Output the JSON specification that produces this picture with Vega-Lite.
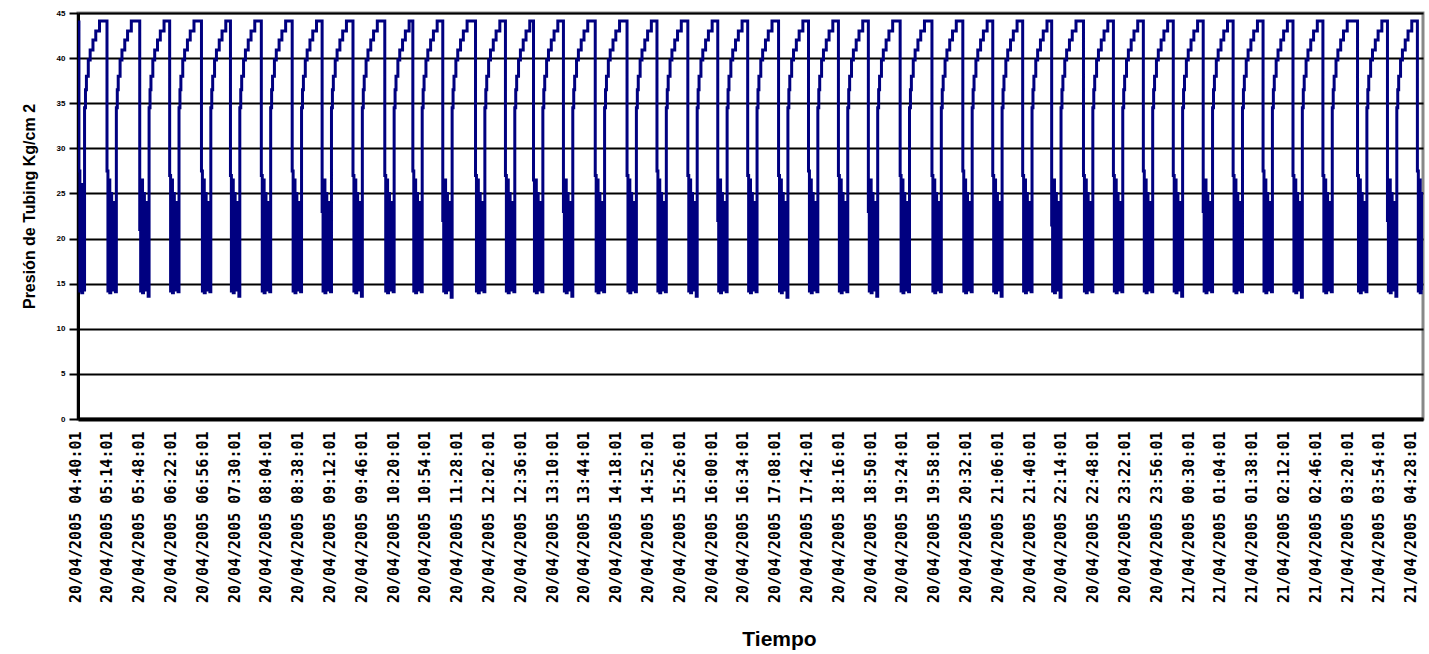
{
"$schema": "https://vega.github.io/schema/vega-lite/v6.json",
"width": 1345, "height": 406,
"autosize": {"type": "none"},
"padding": {"left": 78, "top": 13, "right": 6, "bottom": 235},
"background": "white",
"config": {"view": {"stroke": "#888888", "strokeWidth": 3}},
"data": {"values": [
{"t":"2005-04-20T04:40","p":44.0},{"t":"2005-04-20T04:41","p":27.5},{"t":"2005-04-20T04:42","p":14.2},{"t":"2005-04-20T04:43","p":26},{"t":"2005-04-20T04:44","p":14.0},{"t":"2005-04-20T04:45","p":22},{"t":"2005-04-20T04:46","p":14.3},{"t":"2005-04-20T04:47","p":34.5},{"t":"2005-04-20T04:48","p":36.5},{"t":"2005-04-20T04:49","p":38},{"t":"2005-04-20T04:51","p":39.8},{"t":"2005-04-20T04:53","p":40.9},{"t":"2005-04-20T04:56","p":42},{"t":"2005-04-20T04:59","p":43},{"t":"2005-04-20T05:03","p":44.1},
{"t":"2005-04-20T05:11","p":27.5},{"t":"2005-04-20T05:12","p":14.2},{"t":"2005-04-20T05:13","p":26.5},{"t":"2005-04-20T05:14","p":14.0},{"t":"2005-04-20T05:15","p":25},{"t":"2005-04-20T05:16","p":20.5},{"t":"2005-04-20T05:17","p":14.3},{"t":"2005-04-20T05:19","p":24},{"t":"2005-04-20T05:20","p":14.1},{"t":"2005-04-20T05:21","p":34.5},{"t":"2005-04-20T05:22","p":36.5},{"t":"2005-04-20T05:23","p":38},{"t":"2005-04-20T05:25","p":39.8},{"t":"2005-04-20T05:27","p":40.9},{"t":"2005-04-20T05:30","p":42},{"t":"2005-04-20T05:33","p":43},{"t":"2005-04-20T05:37","p":44.1},
{"t":"2005-04-20T05:46","p":21},{"t":"2005-04-20T05:47","p":14.2},{"t":"2005-04-20T05:48","p":26.5},{"t":"2005-04-20T05:49","p":14.0},{"t":"2005-04-20T05:50","p":25},{"t":"2005-04-20T05:51","p":20.5},{"t":"2005-04-20T05:52","p":14.3},{"t":"2005-04-20T05:54","p":24},{"t":"2005-04-20T05:55","p":13.6},{"t":"2005-04-20T05:56","p":34.5},{"t":"2005-04-20T05:57","p":36.5},{"t":"2005-04-20T05:58","p":38},{"t":"2005-04-20T06:00","p":39.8},{"t":"2005-04-20T06:02","p":40.9},{"t":"2005-04-20T06:05","p":42},{"t":"2005-04-20T06:08","p":43},{"t":"2005-04-20T06:12","p":44.1},
{"t":"2005-04-20T06:18","p":27},{"t":"2005-04-20T06:19","p":14.2},{"t":"2005-04-20T06:20","p":26.5},{"t":"2005-04-20T06:21","p":14.0},{"t":"2005-04-20T06:22","p":25},{"t":"2005-04-20T06:23","p":20.5},{"t":"2005-04-20T06:24","p":14.3},{"t":"2005-04-20T06:26","p":24},{"t":"2005-04-20T06:27","p":14.1},{"t":"2005-04-20T06:28","p":34.5},{"t":"2005-04-20T06:29","p":36.5},{"t":"2005-04-20T06:30","p":38},{"t":"2005-04-20T06:32","p":39.8},{"t":"2005-04-20T06:34","p":40.9},{"t":"2005-04-20T06:37","p":42},{"t":"2005-04-20T06:40","p":43},{"t":"2005-04-20T06:44","p":44.1},
{"t":"2005-04-20T06:52","p":27.5},{"t":"2005-04-20T06:53","p":14.2},{"t":"2005-04-20T06:54","p":26.5},{"t":"2005-04-20T06:55","p":14.0},{"t":"2005-04-20T06:56","p":25},{"t":"2005-04-20T06:57","p":20.5},{"t":"2005-04-20T06:58","p":14.3},{"t":"2005-04-20T07:00","p":24},{"t":"2005-04-20T07:01","p":14.1},{"t":"2005-04-20T07:02","p":34.5},{"t":"2005-04-20T07:03","p":36.5},{"t":"2005-04-20T07:04","p":38},{"t":"2005-04-20T07:06","p":39.8},{"t":"2005-04-20T07:08","p":40.9},{"t":"2005-04-20T07:11","p":42},{"t":"2005-04-20T07:14","p":43},{"t":"2005-04-20T07:18","p":44.1},
{"t":"2005-04-20T07:23","p":27},{"t":"2005-04-20T07:24","p":14.2},{"t":"2005-04-20T07:25","p":26.5},{"t":"2005-04-20T07:26","p":14.0},{"t":"2005-04-20T07:27","p":25},{"t":"2005-04-20T07:28","p":20.5},{"t":"2005-04-20T07:29","p":14.3},{"t":"2005-04-20T07:31","p":24},{"t":"2005-04-20T07:32","p":13.6},{"t":"2005-04-20T07:33","p":34.5},{"t":"2005-04-20T07:34","p":36.5},{"t":"2005-04-20T07:35","p":38},{"t":"2005-04-20T07:37","p":39.8},{"t":"2005-04-20T07:39","p":40.9},{"t":"2005-04-20T07:42","p":42},{"t":"2005-04-20T07:45","p":43},{"t":"2005-04-20T07:49","p":44.1},
{"t":"2005-04-20T07:56","p":27},{"t":"2005-04-20T07:57","p":14.2},{"t":"2005-04-20T07:58","p":26.5},{"t":"2005-04-20T07:59","p":14.0},{"t":"2005-04-20T08:00","p":25},{"t":"2005-04-20T08:01","p":20.5},{"t":"2005-04-20T08:02","p":14.3},{"t":"2005-04-20T08:04","p":24},{"t":"2005-04-20T08:05","p":14.1},{"t":"2005-04-20T08:06","p":34.5},{"t":"2005-04-20T08:07","p":36.5},{"t":"2005-04-20T08:08","p":38},{"t":"2005-04-20T08:10","p":39.8},{"t":"2005-04-20T08:12","p":40.9},{"t":"2005-04-20T08:15","p":42},{"t":"2005-04-20T08:18","p":43},{"t":"2005-04-20T08:22","p":44.1},
{"t":"2005-04-20T08:29","p":27.5},{"t":"2005-04-20T08:30","p":14.2},{"t":"2005-04-20T08:31","p":26.5},{"t":"2005-04-20T08:32","p":14.0},{"t":"2005-04-20T08:33","p":25},{"t":"2005-04-20T08:34","p":20.5},{"t":"2005-04-20T08:35","p":14.3},{"t":"2005-04-20T08:37","p":24},{"t":"2005-04-20T08:38","p":14.1},{"t":"2005-04-20T08:39","p":34.5},{"t":"2005-04-20T08:40","p":36.5},{"t":"2005-04-20T08:41","p":38},{"t":"2005-04-20T08:43","p":39.8},{"t":"2005-04-20T08:45","p":40.9},{"t":"2005-04-20T08:48","p":42},{"t":"2005-04-20T08:51","p":43},{"t":"2005-04-20T08:55","p":44.1},
{"t":"2005-04-20T09:01","p":23},{"t":"2005-04-20T09:02","p":14.2},{"t":"2005-04-20T09:03","p":26.5},{"t":"2005-04-20T09:04","p":14.0},{"t":"2005-04-20T09:05","p":25},{"t":"2005-04-20T09:06","p":20.5},{"t":"2005-04-20T09:07","p":14.3},{"t":"2005-04-20T09:09","p":24},{"t":"2005-04-20T09:10","p":14.1},{"t":"2005-04-20T09:11","p":34.5},{"t":"2005-04-20T09:12","p":36.5},{"t":"2005-04-20T09:13","p":38},{"t":"2005-04-20T09:15","p":39.8},{"t":"2005-04-20T09:17","p":40.9},{"t":"2005-04-20T09:20","p":42},{"t":"2005-04-20T09:23","p":43},{"t":"2005-04-20T09:27","p":44.1},
{"t":"2005-04-20T09:34","p":27},{"t":"2005-04-20T09:35","p":14.2},{"t":"2005-04-20T09:36","p":26.5},{"t":"2005-04-20T09:37","p":14.0},{"t":"2005-04-20T09:38","p":25},{"t":"2005-04-20T09:39","p":20.5},{"t":"2005-04-20T09:40","p":14.3},{"t":"2005-04-20T09:42","p":24},{"t":"2005-04-20T09:43","p":13.6},{"t":"2005-04-20T09:44","p":34.5},{"t":"2005-04-20T09:45","p":36.5},{"t":"2005-04-20T09:46","p":38},{"t":"2005-04-20T09:48","p":39.8},{"t":"2005-04-20T09:50","p":40.9},{"t":"2005-04-20T09:53","p":42},{"t":"2005-04-20T09:56","p":43},{"t":"2005-04-20T10:00","p":44.1},
{"t":"2005-04-20T10:08","p":27},{"t":"2005-04-20T10:09","p":14.2},{"t":"2005-04-20T10:10","p":26.5},{"t":"2005-04-20T10:11","p":14.0},{"t":"2005-04-20T10:12","p":25},{"t":"2005-04-20T10:13","p":20.5},{"t":"2005-04-20T10:14","p":14.3},{"t":"2005-04-20T10:16","p":24},{"t":"2005-04-20T10:17","p":14.1},{"t":"2005-04-20T10:18","p":34.5},{"t":"2005-04-20T10:19","p":36.5},{"t":"2005-04-20T10:20","p":38},{"t":"2005-04-20T10:22","p":39.8},{"t":"2005-04-20T10:24","p":40.9},{"t":"2005-04-20T10:27","p":42},{"t":"2005-04-20T10:30","p":43},{"t":"2005-04-20T10:34","p":44.1},
{"t":"2005-04-20T10:38","p":27.5},{"t":"2005-04-20T10:39","p":14.2},{"t":"2005-04-20T10:40","p":26.5},{"t":"2005-04-20T10:41","p":14.0},{"t":"2005-04-20T10:42","p":25},{"t":"2005-04-20T10:43","p":20.5},{"t":"2005-04-20T10:44","p":14.3},{"t":"2005-04-20T10:46","p":24},{"t":"2005-04-20T10:47","p":14.1},{"t":"2005-04-20T10:48","p":34.5},{"t":"2005-04-20T10:49","p":36.5},{"t":"2005-04-20T10:50","p":38},{"t":"2005-04-20T10:52","p":39.8},{"t":"2005-04-20T10:54","p":40.9},{"t":"2005-04-20T10:57","p":42},{"t":"2005-04-20T11:00","p":43},{"t":"2005-04-20T11:04","p":44.1},
{"t":"2005-04-20T11:10","p":22},{"t":"2005-04-20T11:11","p":14.2},{"t":"2005-04-20T11:12","p":26.5},{"t":"2005-04-20T11:13","p":14.0},{"t":"2005-04-20T11:14","p":25},{"t":"2005-04-20T11:15","p":20.5},{"t":"2005-04-20T11:16","p":14.3},{"t":"2005-04-20T11:18","p":24},{"t":"2005-04-20T11:19","p":13.5},{"t":"2005-04-20T11:20","p":34.5},{"t":"2005-04-20T11:21","p":36.5},{"t":"2005-04-20T11:22","p":38},{"t":"2005-04-20T11:24","p":39.8},{"t":"2005-04-20T11:26","p":40.9},{"t":"2005-04-20T11:29","p":42},{"t":"2005-04-20T11:32","p":43},{"t":"2005-04-20T11:36","p":44.1},
{"t":"2005-04-20T11:45","p":27},{"t":"2005-04-20T11:46","p":14.2},{"t":"2005-04-20T11:47","p":26.5},{"t":"2005-04-20T11:48","p":14.0},{"t":"2005-04-20T11:49","p":25},{"t":"2005-04-20T11:50","p":20.5},{"t":"2005-04-20T11:51","p":14.3},{"t":"2005-04-20T11:53","p":24},{"t":"2005-04-20T11:54","p":14.1},{"t":"2005-04-20T11:55","p":34.5},{"t":"2005-04-20T11:56","p":36.5},{"t":"2005-04-20T11:57","p":38},{"t":"2005-04-20T11:59","p":39.8},{"t":"2005-04-20T12:01","p":40.9},{"t":"2005-04-20T12:04","p":42},{"t":"2005-04-20T12:07","p":43},{"t":"2005-04-20T12:11","p":44.1},
{"t":"2005-04-20T12:17","p":27},{"t":"2005-04-20T12:18","p":14.2},{"t":"2005-04-20T12:19","p":26.5},{"t":"2005-04-20T12:20","p":14.0},{"t":"2005-04-20T12:21","p":25},{"t":"2005-04-20T12:22","p":20.5},{"t":"2005-04-20T12:23","p":14.3},{"t":"2005-04-20T12:25","p":24},{"t":"2005-04-20T12:26","p":14.1},{"t":"2005-04-20T12:27","p":34.5},{"t":"2005-04-20T12:28","p":36.5},{"t":"2005-04-20T12:29","p":38},{"t":"2005-04-20T12:31","p":39.8},{"t":"2005-04-20T12:33","p":40.9},{"t":"2005-04-20T12:36","p":42},{"t":"2005-04-20T12:39","p":43},{"t":"2005-04-20T12:43","p":44.1},
{"t":"2005-04-20T12:47","p":26.5},{"t":"2005-04-20T12:48","p":14.2},{"t":"2005-04-20T12:49","p":26.5},{"t":"2005-04-20T12:50","p":14.0},{"t":"2005-04-20T12:51","p":25},{"t":"2005-04-20T12:52","p":20.5},{"t":"2005-04-20T12:53","p":14.3},{"t":"2005-04-20T12:55","p":24},{"t":"2005-04-20T12:56","p":14.1},{"t":"2005-04-20T12:57","p":34.5},{"t":"2005-04-20T12:58","p":36.5},{"t":"2005-04-20T12:59","p":38},{"t":"2005-04-20T13:01","p":39.8},{"t":"2005-04-20T13:03","p":40.9},{"t":"2005-04-20T13:06","p":42},{"t":"2005-04-20T13:09","p":43},{"t":"2005-04-20T13:13","p":44.1},
{"t":"2005-04-20T13:19","p":23},{"t":"2005-04-20T13:20","p":14.2},{"t":"2005-04-20T13:21","p":26.5},{"t":"2005-04-20T13:22","p":14.0},{"t":"2005-04-20T13:23","p":25},{"t":"2005-04-20T13:24","p":20.5},{"t":"2005-04-20T13:25","p":14.3},{"t":"2005-04-20T13:27","p":24},{"t":"2005-04-20T13:28","p":13.6},{"t":"2005-04-20T13:29","p":34.5},{"t":"2005-04-20T13:30","p":36.5},{"t":"2005-04-20T13:31","p":38},{"t":"2005-04-20T13:33","p":39.8},{"t":"2005-04-20T13:35","p":40.9},{"t":"2005-04-20T13:38","p":42},{"t":"2005-04-20T13:41","p":43},{"t":"2005-04-20T13:45","p":44.1},
{"t":"2005-04-20T13:53","p":27},{"t":"2005-04-20T13:54","p":14.2},{"t":"2005-04-20T13:55","p":26.5},{"t":"2005-04-20T13:56","p":14.0},{"t":"2005-04-20T13:57","p":25},{"t":"2005-04-20T13:58","p":20.5},{"t":"2005-04-20T13:59","p":14.3},{"t":"2005-04-20T14:01","p":24},{"t":"2005-04-20T14:02","p":14.1},{"t":"2005-04-20T14:03","p":34.5},{"t":"2005-04-20T14:04","p":36.5},{"t":"2005-04-20T14:05","p":38},{"t":"2005-04-20T14:07","p":39.8},{"t":"2005-04-20T14:09","p":40.9},{"t":"2005-04-20T14:12","p":42},{"t":"2005-04-20T14:15","p":43},{"t":"2005-04-20T14:19","p":44.1},
{"t":"2005-04-20T14:27","p":27},{"t":"2005-04-20T14:28","p":14.2},{"t":"2005-04-20T14:29","p":26.5},{"t":"2005-04-20T14:30","p":14.0},{"t":"2005-04-20T14:31","p":25},{"t":"2005-04-20T14:32","p":20.5},{"t":"2005-04-20T14:33","p":14.3},{"t":"2005-04-20T14:35","p":24},{"t":"2005-04-20T14:36","p":14.1},{"t":"2005-04-20T14:37","p":34.5},{"t":"2005-04-20T14:38","p":36.5},{"t":"2005-04-20T14:39","p":38},{"t":"2005-04-20T14:41","p":39.8},{"t":"2005-04-20T14:43","p":40.9},{"t":"2005-04-20T14:46","p":42},{"t":"2005-04-20T14:49","p":43},{"t":"2005-04-20T14:53","p":44.1},
{"t":"2005-04-20T14:59","p":27.5},{"t":"2005-04-20T15:00","p":14.2},{"t":"2005-04-20T15:01","p":26.5},{"t":"2005-04-20T15:02","p":14.0},{"t":"2005-04-20T15:03","p":25},{"t":"2005-04-20T15:04","p":20.5},{"t":"2005-04-20T15:05","p":14.3},{"t":"2005-04-20T15:07","p":24},{"t":"2005-04-20T15:08","p":14.1},{"t":"2005-04-20T15:09","p":34.5},{"t":"2005-04-20T15:10","p":36.5},{"t":"2005-04-20T15:11","p":38},{"t":"2005-04-20T15:13","p":39.8},{"t":"2005-04-20T15:15","p":40.9},{"t":"2005-04-20T15:18","p":42},{"t":"2005-04-20T15:21","p":43},{"t":"2005-04-20T15:25","p":44.1},
{"t":"2005-04-20T15:32","p":27},{"t":"2005-04-20T15:33","p":14.2},{"t":"2005-04-20T15:34","p":26.5},{"t":"2005-04-20T15:35","p":14.0},{"t":"2005-04-20T15:36","p":25},{"t":"2005-04-20T15:37","p":20.5},{"t":"2005-04-20T15:38","p":14.3},{"t":"2005-04-20T15:40","p":24},{"t":"2005-04-20T15:41","p":13.6},{"t":"2005-04-20T15:42","p":34.5},{"t":"2005-04-20T15:43","p":36.5},{"t":"2005-04-20T15:44","p":38},{"t":"2005-04-20T15:46","p":39.8},{"t":"2005-04-20T15:48","p":40.9},{"t":"2005-04-20T15:51","p":42},{"t":"2005-04-20T15:54","p":43},{"t":"2005-04-20T15:58","p":44.1},
{"t":"2005-04-20T16:04","p":22},{"t":"2005-04-20T16:05","p":14.2},{"t":"2005-04-20T16:06","p":26.5},{"t":"2005-04-20T16:07","p":14.0},{"t":"2005-04-20T16:08","p":25},{"t":"2005-04-20T16:09","p":20.5},{"t":"2005-04-20T16:10","p":14.3},{"t":"2005-04-20T16:12","p":24},{"t":"2005-04-20T16:13","p":14.1},{"t":"2005-04-20T16:14","p":34.5},{"t":"2005-04-20T16:15","p":36.5},{"t":"2005-04-20T16:16","p":38},{"t":"2005-04-20T16:18","p":39.8},{"t":"2005-04-20T16:20","p":40.9},{"t":"2005-04-20T16:23","p":42},{"t":"2005-04-20T16:26","p":43},{"t":"2005-04-20T16:30","p":44.1},
{"t":"2005-04-20T16:36","p":27},{"t":"2005-04-20T16:37","p":14.2},{"t":"2005-04-20T16:38","p":26.5},{"t":"2005-04-20T16:39","p":14.0},{"t":"2005-04-20T16:40","p":25},{"t":"2005-04-20T16:41","p":20.5},{"t":"2005-04-20T16:42","p":14.3},{"t":"2005-04-20T16:44","p":24},{"t":"2005-04-20T16:45","p":14.1},{"t":"2005-04-20T16:46","p":34.5},{"t":"2005-04-20T16:47","p":36.5},{"t":"2005-04-20T16:48","p":38},{"t":"2005-04-20T16:50","p":39.8},{"t":"2005-04-20T16:52","p":40.9},{"t":"2005-04-20T16:55","p":42},{"t":"2005-04-20T16:58","p":43},{"t":"2005-04-20T17:02","p":44.1},
{"t":"2005-04-20T17:09","p":27},{"t":"2005-04-20T17:10","p":14.2},{"t":"2005-04-20T17:11","p":26.5},{"t":"2005-04-20T17:12","p":14.0},{"t":"2005-04-20T17:13","p":25},{"t":"2005-04-20T17:14","p":20.5},{"t":"2005-04-20T17:15","p":14.3},{"t":"2005-04-20T17:17","p":24},{"t":"2005-04-20T17:18","p":13.5},{"t":"2005-04-20T17:19","p":34.5},{"t":"2005-04-20T17:20","p":36.5},{"t":"2005-04-20T17:21","p":38},{"t":"2005-04-20T17:23","p":39.8},{"t":"2005-04-20T17:25","p":40.9},{"t":"2005-04-20T17:28","p":42},{"t":"2005-04-20T17:31","p":43},{"t":"2005-04-20T17:35","p":44.1},
{"t":"2005-04-20T17:41","p":27.5},{"t":"2005-04-20T17:42","p":14.2},{"t":"2005-04-20T17:43","p":26.5},{"t":"2005-04-20T17:44","p":14.0},{"t":"2005-04-20T17:45","p":25},{"t":"2005-04-20T17:46","p":20.5},{"t":"2005-04-20T17:47","p":14.3},{"t":"2005-04-20T17:49","p":24},{"t":"2005-04-20T17:50","p":14.1},{"t":"2005-04-20T17:51","p":34.5},{"t":"2005-04-20T17:52","p":36.5},{"t":"2005-04-20T17:53","p":38},{"t":"2005-04-20T17:55","p":39.8},{"t":"2005-04-20T17:57","p":40.9},{"t":"2005-04-20T18:00","p":42},{"t":"2005-04-20T18:03","p":43},{"t":"2005-04-20T18:07","p":44.1},
{"t":"2005-04-20T18:13","p":27},{"t":"2005-04-20T18:14","p":14.2},{"t":"2005-04-20T18:15","p":26.5},{"t":"2005-04-20T18:16","p":14.0},{"t":"2005-04-20T18:17","p":25},{"t":"2005-04-20T18:18","p":20.5},{"t":"2005-04-20T18:19","p":14.3},{"t":"2005-04-20T18:21","p":24},{"t":"2005-04-20T18:22","p":14.1},{"t":"2005-04-20T18:23","p":34.5},{"t":"2005-04-20T18:24","p":36.5},{"t":"2005-04-20T18:25","p":38},{"t":"2005-04-20T18:27","p":39.8},{"t":"2005-04-20T18:29","p":40.9},{"t":"2005-04-20T18:32","p":42},{"t":"2005-04-20T18:35","p":43},{"t":"2005-04-20T18:39","p":44.1},
{"t":"2005-04-20T18:45","p":23},{"t":"2005-04-20T18:46","p":14.2},{"t":"2005-04-20T18:47","p":26.5},{"t":"2005-04-20T18:48","p":14.0},{"t":"2005-04-20T18:49","p":25},{"t":"2005-04-20T18:50","p":20.5},{"t":"2005-04-20T18:51","p":14.3},{"t":"2005-04-20T18:53","p":24},{"t":"2005-04-20T18:54","p":13.6},{"t":"2005-04-20T18:55","p":34.5},{"t":"2005-04-20T18:56","p":36.5},{"t":"2005-04-20T18:57","p":38},{"t":"2005-04-20T18:59","p":39.8},{"t":"2005-04-20T19:01","p":40.9},{"t":"2005-04-20T19:04","p":42},{"t":"2005-04-20T19:07","p":43},{"t":"2005-04-20T19:11","p":44.1},
{"t":"2005-04-20T19:19","p":27},{"t":"2005-04-20T19:20","p":14.2},{"t":"2005-04-20T19:21","p":26.5},{"t":"2005-04-20T19:22","p":14.0},{"t":"2005-04-20T19:23","p":25},{"t":"2005-04-20T19:24","p":20.5},{"t":"2005-04-20T19:25","p":14.3},{"t":"2005-04-20T19:27","p":24},{"t":"2005-04-20T19:28","p":14.1},{"t":"2005-04-20T19:29","p":34.5},{"t":"2005-04-20T19:30","p":36.5},{"t":"2005-04-20T19:31","p":38},{"t":"2005-04-20T19:33","p":39.8},{"t":"2005-04-20T19:35","p":40.9},{"t":"2005-04-20T19:38","p":42},{"t":"2005-04-20T19:41","p":43},{"t":"2005-04-20T19:45","p":44.1},
{"t":"2005-04-20T19:53","p":27},{"t":"2005-04-20T19:54","p":14.2},{"t":"2005-04-20T19:55","p":26.5},{"t":"2005-04-20T19:56","p":14.0},{"t":"2005-04-20T19:57","p":25},{"t":"2005-04-20T19:58","p":20.5},{"t":"2005-04-20T19:59","p":14.3},{"t":"2005-04-20T20:01","p":24},{"t":"2005-04-20T20:02","p":14.1},{"t":"2005-04-20T20:03","p":34.5},{"t":"2005-04-20T20:04","p":36.5},{"t":"2005-04-20T20:05","p":38},{"t":"2005-04-20T20:07","p":39.8},{"t":"2005-04-20T20:09","p":40.9},{"t":"2005-04-20T20:12","p":42},{"t":"2005-04-20T20:15","p":43},{"t":"2005-04-20T20:19","p":44.1},
{"t":"2005-04-20T20:26","p":27.5},{"t":"2005-04-20T20:27","p":14.2},{"t":"2005-04-20T20:28","p":26.5},{"t":"2005-04-20T20:29","p":14.0},{"t":"2005-04-20T20:30","p":25},{"t":"2005-04-20T20:31","p":20.5},{"t":"2005-04-20T20:32","p":14.3},{"t":"2005-04-20T20:34","p":24},{"t":"2005-04-20T20:35","p":14.1},{"t":"2005-04-20T20:36","p":34.5},{"t":"2005-04-20T20:37","p":36.5},{"t":"2005-04-20T20:38","p":38},{"t":"2005-04-20T20:40","p":39.8},{"t":"2005-04-20T20:42","p":40.9},{"t":"2005-04-20T20:45","p":42},{"t":"2005-04-20T20:48","p":43},{"t":"2005-04-20T20:52","p":44.1},
{"t":"2005-04-20T20:58","p":27},{"t":"2005-04-20T20:59","p":14.2},{"t":"2005-04-20T21:00","p":26.5},{"t":"2005-04-20T21:01","p":14.0},{"t":"2005-04-20T21:02","p":25},{"t":"2005-04-20T21:03","p":20.5},{"t":"2005-04-20T21:04","p":14.3},{"t":"2005-04-20T21:06","p":24},{"t":"2005-04-20T21:07","p":13.6},{"t":"2005-04-20T21:08","p":34.5},{"t":"2005-04-20T21:09","p":36.5},{"t":"2005-04-20T21:10","p":38},{"t":"2005-04-20T21:12","p":39.8},{"t":"2005-04-20T21:14","p":40.9},{"t":"2005-04-20T21:17","p":42},{"t":"2005-04-20T21:20","p":43},{"t":"2005-04-20T21:24","p":44.1},
{"t":"2005-04-20T21:30","p":27},{"t":"2005-04-20T21:31","p":14.2},{"t":"2005-04-20T21:32","p":26.5},{"t":"2005-04-20T21:33","p":14.0},{"t":"2005-04-20T21:34","p":25},{"t":"2005-04-20T21:35","p":20.5},{"t":"2005-04-20T21:36","p":14.3},{"t":"2005-04-20T21:38","p":24},{"t":"2005-04-20T21:39","p":14.1},{"t":"2005-04-20T21:40","p":34.5},{"t":"2005-04-20T21:41","p":36.5},{"t":"2005-04-20T21:42","p":38},{"t":"2005-04-20T21:44","p":39.8},{"t":"2005-04-20T21:46","p":40.9},{"t":"2005-04-20T21:49","p":42},{"t":"2005-04-20T21:52","p":43},{"t":"2005-04-20T21:56","p":44.1},
{"t":"2005-04-20T22:01","p":21.5},{"t":"2005-04-20T22:02","p":14.2},{"t":"2005-04-20T22:03","p":26.5},{"t":"2005-04-20T22:04","p":14.0},{"t":"2005-04-20T22:05","p":25},{"t":"2005-04-20T22:06","p":20.5},{"t":"2005-04-20T22:07","p":14.3},{"t":"2005-04-20T22:09","p":24},{"t":"2005-04-20T22:10","p":13.5},{"t":"2005-04-20T22:11","p":34.5},{"t":"2005-04-20T22:12","p":36.5},{"t":"2005-04-20T22:13","p":38},{"t":"2005-04-20T22:15","p":39.8},{"t":"2005-04-20T22:17","p":40.9},{"t":"2005-04-20T22:20","p":42},{"t":"2005-04-20T22:23","p":43},{"t":"2005-04-20T22:27","p":44.1},
{"t":"2005-04-20T22:35","p":27},{"t":"2005-04-20T22:36","p":14.2},{"t":"2005-04-20T22:37","p":26.5},{"t":"2005-04-20T22:38","p":14.0},{"t":"2005-04-20T22:39","p":25},{"t":"2005-04-20T22:40","p":20.5},{"t":"2005-04-20T22:41","p":14.3},{"t":"2005-04-20T22:43","p":24},{"t":"2005-04-20T22:44","p":14.1},{"t":"2005-04-20T22:45","p":34.5},{"t":"2005-04-20T22:46","p":36.5},{"t":"2005-04-20T22:47","p":38},{"t":"2005-04-20T22:49","p":39.8},{"t":"2005-04-20T22:51","p":40.9},{"t":"2005-04-20T22:54","p":42},{"t":"2005-04-20T22:57","p":43},{"t":"2005-04-20T23:01","p":44.1},
{"t":"2005-04-20T23:07","p":27},{"t":"2005-04-20T23:08","p":14.2},{"t":"2005-04-20T23:09","p":26.5},{"t":"2005-04-20T23:10","p":14.0},{"t":"2005-04-20T23:11","p":25},{"t":"2005-04-20T23:12","p":20.5},{"t":"2005-04-20T23:13","p":14.3},{"t":"2005-04-20T23:15","p":24},{"t":"2005-04-20T23:16","p":14.1},{"t":"2005-04-20T23:17","p":34.5},{"t":"2005-04-20T23:18","p":36.5},{"t":"2005-04-20T23:19","p":38},{"t":"2005-04-20T23:21","p":39.8},{"t":"2005-04-20T23:23","p":40.9},{"t":"2005-04-20T23:26","p":42},{"t":"2005-04-20T23:29","p":43},{"t":"2005-04-20T23:33","p":44.1},
{"t":"2005-04-20T23:39","p":27.5},{"t":"2005-04-20T23:40","p":14.2},{"t":"2005-04-20T23:41","p":26.5},{"t":"2005-04-20T23:42","p":14.0},{"t":"2005-04-20T23:43","p":25},{"t":"2005-04-20T23:44","p":20.5},{"t":"2005-04-20T23:45","p":14.3},{"t":"2005-04-20T23:47","p":24},{"t":"2005-04-20T23:48","p":14.1},{"t":"2005-04-20T23:49","p":34.5},{"t":"2005-04-20T23:50","p":36.5},{"t":"2005-04-20T23:51","p":38},{"t":"2005-04-20T23:53","p":39.8},{"t":"2005-04-20T23:55","p":40.9},{"t":"2005-04-20T23:58","p":42},{"t":"2005-04-21T00:01","p":43},{"t":"2005-04-21T00:05","p":44.1},
{"t":"2005-04-21T00:11","p":27},{"t":"2005-04-21T00:12","p":14.2},{"t":"2005-04-21T00:13","p":26.5},{"t":"2005-04-21T00:14","p":14.0},{"t":"2005-04-21T00:15","p":25},{"t":"2005-04-21T00:16","p":20.5},{"t":"2005-04-21T00:17","p":14.3},{"t":"2005-04-21T00:19","p":24},{"t":"2005-04-21T00:20","p":13.6},{"t":"2005-04-21T00:21","p":34.5},{"t":"2005-04-21T00:22","p":36.5},{"t":"2005-04-21T00:23","p":38},{"t":"2005-04-21T00:25","p":39.8},{"t":"2005-04-21T00:27","p":40.9},{"t":"2005-04-21T00:30","p":42},{"t":"2005-04-21T00:33","p":43},{"t":"2005-04-21T00:37","p":44.1},
{"t":"2005-04-21T00:43","p":23},{"t":"2005-04-21T00:44","p":14.2},{"t":"2005-04-21T00:45","p":26.5},{"t":"2005-04-21T00:46","p":14.0},{"t":"2005-04-21T00:47","p":25},{"t":"2005-04-21T00:48","p":20.5},{"t":"2005-04-21T00:49","p":14.3},{"t":"2005-04-21T00:51","p":24},{"t":"2005-04-21T00:52","p":14.1},{"t":"2005-04-21T00:53","p":34.5},{"t":"2005-04-21T00:54","p":36.5},{"t":"2005-04-21T00:55","p":38},{"t":"2005-04-21T00:57","p":39.8},{"t":"2005-04-21T00:59","p":40.9},{"t":"2005-04-21T01:02","p":42},{"t":"2005-04-21T01:05","p":43},{"t":"2005-04-21T01:09","p":44.1},
{"t":"2005-04-21T01:15","p":27},{"t":"2005-04-21T01:16","p":14.2},{"t":"2005-04-21T01:17","p":26.5},{"t":"2005-04-21T01:18","p":14.0},{"t":"2005-04-21T01:19","p":25},{"t":"2005-04-21T01:20","p":20.5},{"t":"2005-04-21T01:21","p":14.3},{"t":"2005-04-21T01:23","p":24},{"t":"2005-04-21T01:24","p":14.1},{"t":"2005-04-21T01:25","p":34.5},{"t":"2005-04-21T01:26","p":36.5},{"t":"2005-04-21T01:27","p":38},{"t":"2005-04-21T01:29","p":39.8},{"t":"2005-04-21T01:31","p":40.9},{"t":"2005-04-21T01:34","p":42},{"t":"2005-04-21T01:37","p":43},{"t":"2005-04-21T01:41","p":44.1},
{"t":"2005-04-21T01:47","p":27.5},{"t":"2005-04-21T01:48","p":14.2},{"t":"2005-04-21T01:49","p":26.5},{"t":"2005-04-21T01:50","p":14.0},{"t":"2005-04-21T01:51","p":25},{"t":"2005-04-21T01:52","p":20.5},{"t":"2005-04-21T01:53","p":14.3},{"t":"2005-04-21T01:55","p":24},{"t":"2005-04-21T01:56","p":14.1},{"t":"2005-04-21T01:57","p":34.5},{"t":"2005-04-21T01:58","p":36.5},{"t":"2005-04-21T01:59","p":38},{"t":"2005-04-21T02:01","p":39.8},{"t":"2005-04-21T02:03","p":40.9},{"t":"2005-04-21T02:06","p":42},{"t":"2005-04-21T02:09","p":43},{"t":"2005-04-21T02:13","p":44.1},
{"t":"2005-04-21T02:19","p":27},{"t":"2005-04-21T02:20","p":14.2},{"t":"2005-04-21T02:21","p":26.5},{"t":"2005-04-21T02:22","p":14.0},{"t":"2005-04-21T02:23","p":25},{"t":"2005-04-21T02:24","p":20.5},{"t":"2005-04-21T02:25","p":14.3},{"t":"2005-04-21T02:27","p":24},{"t":"2005-04-21T02:28","p":13.5},{"t":"2005-04-21T02:29","p":34.5},{"t":"2005-04-21T02:30","p":36.5},{"t":"2005-04-21T02:31","p":38},{"t":"2005-04-21T02:33","p":39.8},{"t":"2005-04-21T02:35","p":40.9},{"t":"2005-04-21T02:38","p":42},{"t":"2005-04-21T02:41","p":43},{"t":"2005-04-21T02:45","p":44.1},
{"t":"2005-04-21T02:51","p":27},{"t":"2005-04-21T02:52","p":14.2},{"t":"2005-04-21T02:53","p":26.5},{"t":"2005-04-21T02:54","p":14.0},{"t":"2005-04-21T02:55","p":25},{"t":"2005-04-21T02:56","p":20.5},{"t":"2005-04-21T02:57","p":14.3},{"t":"2005-04-21T02:59","p":24},{"t":"2005-04-21T03:00","p":14.1},{"t":"2005-04-21T03:01","p":34.5},{"t":"2005-04-21T03:02","p":36.5},{"t":"2005-04-21T03:03","p":38},{"t":"2005-04-21T03:05","p":39.8},{"t":"2005-04-21T03:07","p":40.9},{"t":"2005-04-21T03:10","p":42},{"t":"2005-04-21T03:13","p":43},{"t":"2005-04-21T03:17","p":44.1},
{"t":"2005-04-21T03:28","p":27},{"t":"2005-04-21T03:29","p":14.2},{"t":"2005-04-21T03:30","p":26.5},{"t":"2005-04-21T03:31","p":14.0},{"t":"2005-04-21T03:32","p":25},{"t":"2005-04-21T03:33","p":20.5},{"t":"2005-04-21T03:34","p":14.3},{"t":"2005-04-21T03:36","p":24},{"t":"2005-04-21T03:37","p":14.1},{"t":"2005-04-21T03:38","p":34.5},{"t":"2005-04-21T03:39","p":36.5},{"t":"2005-04-21T03:40","p":38},{"t":"2005-04-21T03:42","p":39.8},{"t":"2005-04-21T03:44","p":40.9},{"t":"2005-04-21T03:47","p":42},{"t":"2005-04-21T03:50","p":43},{"t":"2005-04-21T03:54","p":44.1},
{"t":"2005-04-21T04:00","p":22},{"t":"2005-04-21T04:01","p":14.2},{"t":"2005-04-21T04:02","p":26.5},{"t":"2005-04-21T04:03","p":14.0},{"t":"2005-04-21T04:04","p":25},{"t":"2005-04-21T04:05","p":20.5},{"t":"2005-04-21T04:06","p":14.3},{"t":"2005-04-21T04:08","p":24},{"t":"2005-04-21T04:09","p":13.6},{"t":"2005-04-21T04:10","p":34.5},{"t":"2005-04-21T04:11","p":36.5},{"t":"2005-04-21T04:12","p":38},{"t":"2005-04-21T04:14","p":39.8},{"t":"2005-04-21T04:16","p":40.9},{"t":"2005-04-21T04:19","p":42},{"t":"2005-04-21T04:22","p":43},{"t":"2005-04-21T04:26","p":44.1},
{"t":"2005-04-21T04:32","p":27.5},{"t":"2005-04-21T04:33","p":14.2},{"t":"2005-04-21T04:34","p":26.5},{"t":"2005-04-21T04:35","p":14.0},{"t":"2005-04-21T04:36","p":25},{"t":"2005-04-21T04:37","p":20.5},{"t":"2005-04-21T04:38","p":14.3}
]},
"mark": {"type": "line", "color": "#000080", "strokeWidth": 3, "interpolate": "step-after", "clip": true},
"encoding": {
"x": {"field": "t", "type": "temporal",
 "scale": {"domain": [{"year": 2005, "month": 4, "date": 20, "hours": 4, "minutes": 40}, {"year": 2005, "month": 4, "date": 21, "hours": 4, "minutes": 38}]},
 "axis": {
  "values": [
   {"year":2005,"month":4,"date":20,"hours":4,"minutes":40,"seconds":1},
   {"year":2005,"month":4,"date":20,"hours":5,"minutes":14,"seconds":1},
   {"year":2005,"month":4,"date":20,"hours":5,"minutes":48,"seconds":1},
   {"year":2005,"month":4,"date":20,"hours":6,"minutes":22,"seconds":1},
   {"year":2005,"month":4,"date":20,"hours":6,"minutes":56,"seconds":1},
   {"year":2005,"month":4,"date":20,"hours":7,"minutes":30,"seconds":1},
   {"year":2005,"month":4,"date":20,"hours":8,"minutes":4,"seconds":1},
   {"year":2005,"month":4,"date":20,"hours":8,"minutes":38,"seconds":1},
   {"year":2005,"month":4,"date":20,"hours":9,"minutes":12,"seconds":1},
   {"year":2005,"month":4,"date":20,"hours":9,"minutes":46,"seconds":1},
   {"year":2005,"month":4,"date":20,"hours":10,"minutes":20,"seconds":1},
   {"year":2005,"month":4,"date":20,"hours":10,"minutes":54,"seconds":1},
   {"year":2005,"month":4,"date":20,"hours":11,"minutes":28,"seconds":1},
   {"year":2005,"month":4,"date":20,"hours":12,"minutes":2,"seconds":1},
   {"year":2005,"month":4,"date":20,"hours":12,"minutes":36,"seconds":1},
   {"year":2005,"month":4,"date":20,"hours":13,"minutes":10,"seconds":1},
   {"year":2005,"month":4,"date":20,"hours":13,"minutes":44,"seconds":1},
   {"year":2005,"month":4,"date":20,"hours":14,"minutes":18,"seconds":1},
   {"year":2005,"month":4,"date":20,"hours":14,"minutes":52,"seconds":1},
   {"year":2005,"month":4,"date":20,"hours":15,"minutes":26,"seconds":1},
   {"year":2005,"month":4,"date":20,"hours":16,"minutes":0,"seconds":1},
   {"year":2005,"month":4,"date":20,"hours":16,"minutes":34,"seconds":1},
   {"year":2005,"month":4,"date":20,"hours":17,"minutes":8,"seconds":1},
   {"year":2005,"month":4,"date":20,"hours":17,"minutes":42,"seconds":1},
   {"year":2005,"month":4,"date":20,"hours":18,"minutes":16,"seconds":1},
   {"year":2005,"month":4,"date":20,"hours":18,"minutes":50,"seconds":1},
   {"year":2005,"month":4,"date":20,"hours":19,"minutes":24,"seconds":1},
   {"year":2005,"month":4,"date":20,"hours":19,"minutes":58,"seconds":1},
   {"year":2005,"month":4,"date":20,"hours":20,"minutes":32,"seconds":1},
   {"year":2005,"month":4,"date":20,"hours":21,"minutes":6,"seconds":1},
   {"year":2005,"month":4,"date":20,"hours":21,"minutes":40,"seconds":1},
   {"year":2005,"month":4,"date":20,"hours":22,"minutes":14,"seconds":1},
   {"year":2005,"month":4,"date":20,"hours":22,"minutes":48,"seconds":1},
   {"year":2005,"month":4,"date":20,"hours":23,"minutes":22,"seconds":1},
   {"year":2005,"month":4,"date":20,"hours":23,"minutes":56,"seconds":1},
   {"year":2005,"month":4,"date":21,"hours":0,"minutes":30,"seconds":1},
   {"year":2005,"month":4,"date":21,"hours":1,"minutes":4,"seconds":1},
   {"year":2005,"month":4,"date":21,"hours":1,"minutes":38,"seconds":1},
   {"year":2005,"month":4,"date":21,"hours":2,"minutes":12,"seconds":1},
   {"year":2005,"month":4,"date":21,"hours":2,"minutes":46,"seconds":1},
   {"year":2005,"month":4,"date":21,"hours":3,"minutes":20,"seconds":1},
   {"year":2005,"month":4,"date":21,"hours":3,"minutes":54,"seconds":1},
   {"year":2005,"month":4,"date":21,"hours":4,"minutes":28,"seconds":1}
  ],
  "format": "%d/%m/%Y %H:%M:%S", "formatType": "time",
  "labelAngle": -90, "labelFont": "DejaVu Sans Mono", "labelFontWeight": "bold", "labelFontSize": 15, "labelColor": "black",
  "labelPadding": 12, "labelOffset": -3, "labelOverlap": false, "labelFlush": false,
  "ticks": false, "grid": false, "domainColor": "black", "domainWidth": 4,
  "title": "Tiempo", "titleFont": "Liberation Sans", "titleFontSize": 21, "titleFontWeight": "bold", "titleColor": "black",
  "titleX": 701, "titleY": 226, "titleBaseline": "alphabetic", "titleAlign": "center"
 }},
"y": {"field": "p", "type": "quantitative",
 "scale": {"domain": [0, 45], "nice": false},
 "axis": {
  "values": [0, 5, 10, 15, 20, 25, 30, 35, 40, 45],
  "grid": true, "gridColor": "black", "gridWidth": 2, "gridOpacity": 1,
  "domainColor": "black", "domainWidth": 3, "tickColor": "black", "tickWidth": 2, "tickSize": 9,
  "labelFont": "Liberation Sans", "labelFontSize": 8, "labelFontWeight": "bold", "labelColor": "black", "labelPadding": 4, "labelFlush": false,
  "title": "Presión de Tubing Kg/cm 2", "titleFont": "Liberation Sans", "titleFontSize": 16, "titleFontWeight": "bold", "titleColor": "black",
  "titleX": -44, "titleY": 193, "titleBaseline": "alphabetic", "titleAngle": -90, "titleAlign": "center"
 }}
}
}
